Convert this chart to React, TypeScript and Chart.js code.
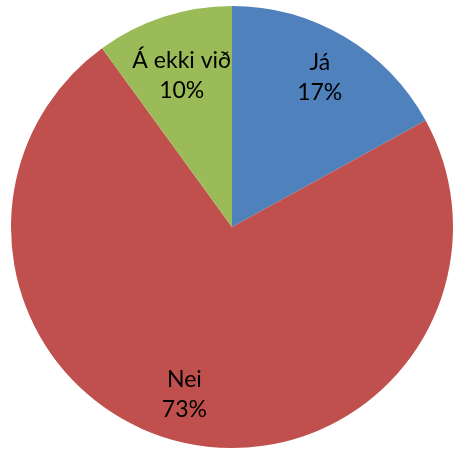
import React, { useEffect, useRef } from "react";
import { Chart, registerables } from "chart.js";

Chart.register(...registerables);

const categories = ["Já", "Nei", "Á ekki við"];
const percentages = [17, 73, 10];
const sliceColors = ["#4F81BD", "#C0504D", "#9BBB59"];
// label nudges (styling only), in pixels
const labelNudge = [
  [0, -1],
  [-10, -1],
  [3, 13],
];

const labelPlugin = {
  id: "sliceLabels",
  afterDatasetsDraw(chart: any) {
    const { ctx } = chart;
    const meta = chart.getDatasetMeta(0);
    ctx.save();
    ctx.font = "23px Lato, 'Open Sans', sans-serif";
    ctx.fillStyle = "#000";
    ctx.textAlign = "center";
    ctx.textBaseline = "middle";
    meta.data.forEach((arc: any, i: number) => {
      const { x, y, startAngle, endAngle, outerRadius } = arc.getProps(
        ["x", "y", "startAngle", "endAngle", "outerRadius"],
        true
      );
      const mid = (startAngle + endAngle) / 2;
      const r = outerRadius * 0.78;
      const cx = x + Math.cos(mid) * r + labelNudge[i][0];
      const cy = y + Math.sin(mid) * r + labelNudge[i][1];
      ctx.fillText(categories[i], cx, cy - 15);
      ctx.fillText(percentages[i] + "%", cx, cy + 15);
    });
    ctx.restore();
  },
};

export default function App() {
  const ref = useRef<HTMLCanvasElement>(null);
  useEffect(() => {
    if (!ref.current) return;
    const chart = new Chart(ref.current, {
      type: "pie",
      data: {
        labels: categories,
        datasets: [
          {
            data: percentages,
            backgroundColor: sliceColors,
            borderWidth: 0,
          },
        ],
      },
      options: {
        animation: false,
        responsive: false,
        maintainAspectRatio: false,
        layout: { padding: { left: 11, right: 0, top: 6, bottom: 2 } },
        plugins: {
          legend: { display: false },
          tooltip: { enabled: false },
        },
      },
      plugins: [labelPlugin],
    });
    return () => chart.destroy();
  }, []);
  return (
    <div style={{ position: "fixed", left: 0, top: 0, width: 453, height: 450, background: "#fff" }}>
      <canvas ref={ref} width={453} height={450} style={{ display: "block" }} />
    </div>
  );
}
